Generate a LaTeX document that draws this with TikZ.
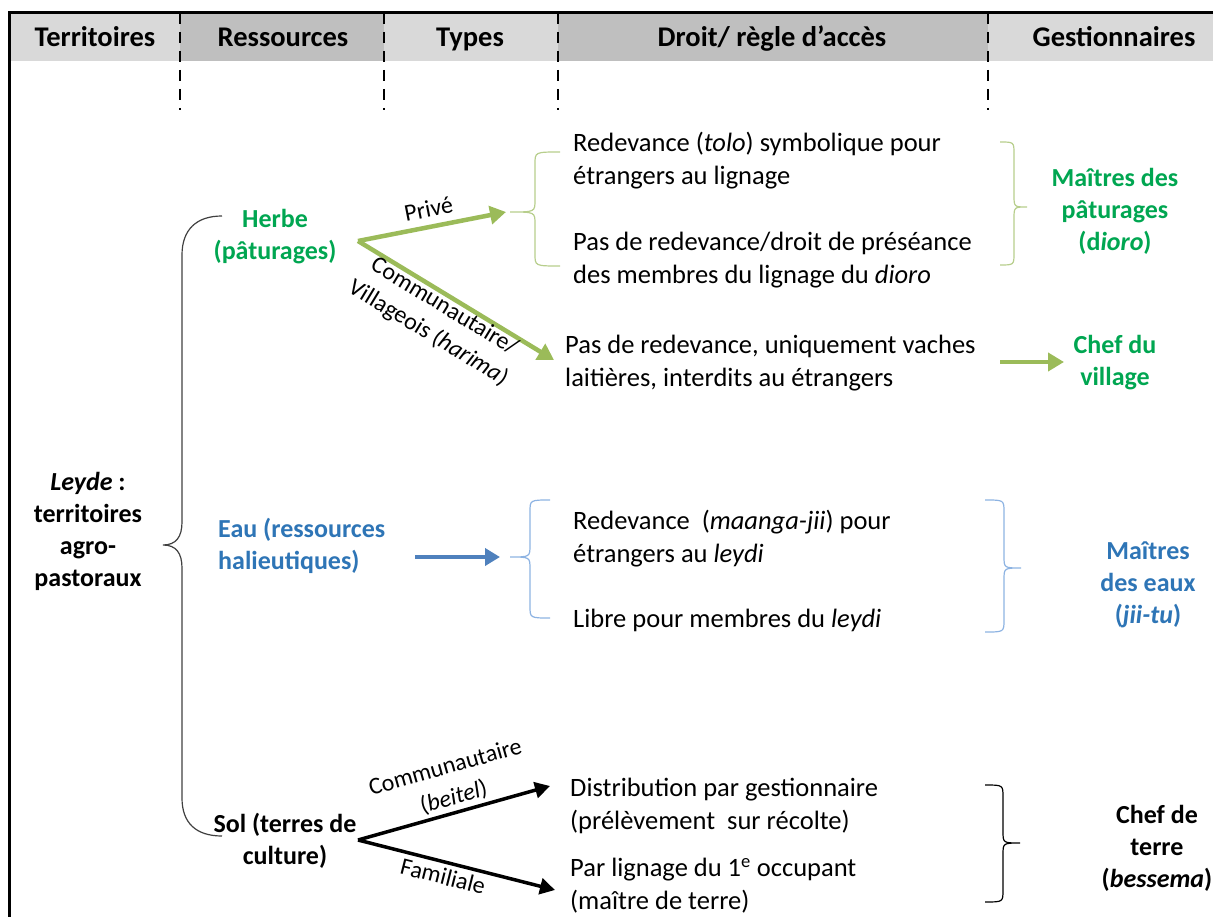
\documentclass[tikz,border=0pt]{standalone}
\usepackage{fontspec}
\setmainfont{Carlito}
\usetikzlibrary{arrows.meta}
\definecolor{hgreen}{HTML}{00A651}
\definecolor{agreen}{HTML}{9BBB59}
\definecolor{bgreen}{HTML}{B7CE8C}
\definecolor{tblue}{HTML}{2E75B6}
\definecolor{ablue}{HTML}{4F81BD}
\definecolor{bblue}{HTML}{8DB3E2}
\definecolor{hlight}{HTML}{D9D9D9}
\definecolor{hdark}{HTML}{BFBFBF}
\newcommand\mybrace[8]{%
\draw[#1] (#2,#3) .. controls (#5,#3) .. (#5,#3+#8) -- (#5,#7-#8) .. controls (#5,#7) .. (#6,#7) .. controls (#5,#7) .. (#5,#7+#8) -- (#5,#4-#8) .. controls (#5,#4) .. (#2,#4);}
\tikzset{
  body/.style={font=\fontsize{26.5}{33}\selectfont, align=left, anchor=west, inner sep=0pt},
  lab/.style={text=black, font=\fontsize{24}{31}\selectfont, align=center, inner sep=0pt},
  ttl/.style={font=\bfseries\fontsize{26}{32}\selectfont, align=center, inner sep=0pt},
  head/.style={font=\bfseries\fontsize{28.5}{32}\selectfont, inner sep=0pt, anchor=base},
  sep/.style={line width=2pt, dash pattern=on 11pt off 8pt},
  garrow/.style={agreen, line width=4.5pt, -{Triangle[length=16pt,width=18pt]}},
  barrow/.style={ablue, line width=4pt, -{Triangle[length=15pt,width=17pt]}},
  karrow/.style={black, line width=3.5pt, -{Triangle[length=15pt,width=16pt]}},
}
\begin{document}
\begin{tikzpicture}[x=1pt,y=-1pt]
\useasboundingbox (0,0) rectangle (1213,917);
% header
\fill[hlight] (9,13) rectangle (180,61);
\fill[hdark] (180,13) rectangle (384,61);
\fill[hlight] (384,13) rectangle (558,61);
\fill[hdark] (558,13) rectangle (988,61);
\fill[hlight] (988,13) rectangle (1213,61);
\draw[line width=3pt] (9,917) -- (9,13) -- (1213,13);
\foreach \x in {180,384,558,988} \draw[sep] (\x,13) -- (\x,110);
\node[head] (h1) at (95,47) {Territoires};
\node[head] (h2) at (283,47) {Ressources};
\node[head] (h3) at (470,47) {Types};
\node[head] (h4) at (772,47) {Droit/ règle d’accès};
\node[head] (h5) at (1114,47) {Gestionnaires};
% left
\node[ttl] (leyde) at (88,531) {\textit{Leyde} :\\territoires\\agro-\\pastoraux};
\draw[line width=1.2pt, black!75] (222,216) .. controls (196,216) and (182,230) .. (182,255) -- (182,522) .. controls (182,537) and (176,545) .. (163,545) .. controls (176,545) and (182,553) .. (182,568) -- (182,798) .. controls (182,823) and (196,836) .. (222,836);
% Herbe
\node[ttl, text=hgreen] (herbe) at (275,237) {Herbe\\(pâturages)};
\coordinate (hv) at (358,241);
\coordinate (g1t) at (506,212);
\coordinate (g2t) at (554,360);
\draw[garrow] (hv) -- node[lab, sloped, above=7pt, pos=0.5] (prive) {Privé} (g1t);
\draw[garrow] (hv) -- node[lab, sloped, below=-1pt, pos=0.47] (comm) {Communautaire/\\Villageois (\textit{harima})} (g2t);
\mybrace{bgreen, line width=1.2pt}{560}{152}{266}{535}{510}{212}{12}
\node[body] (a1) at (573,161) {Redevance (\textit{tolo}) symbolique pour\\étrangers au lignage};
\node[body] (a2) at (573,260) {Pas de redevance/droit de préséance\\des membres du lignage du \textit{dioro}};
\node[body] (a3) at (565,363) {Pas de redevance,\ uniquement vaches\\laitières,\ interdits au étrangers};
\mybrace{bgreen, line width=1.2pt}{1000}{142}{265}{1014}{1027}{207}{12}
\node[ttl, text=hgreen] (g1) at (1115,211) {Maîtres des\\pâturages\\(d\textit{ioro})};
\coordinate (ga1) at (1000,362);
\coordinate (ga2) at (1064,362);
\draw[garrow] (ga1) -- (ga2);
\node[ttl, text=hgreen] (g2) at (1115,363) {Chef du\\village};
% Eau
\node[ttl, text=tblue, align=left, anchor=west] (eau) at (218,546) {Eau (ressources\\halieutiques)};
\coordinate (ba1) at (415,557);
\coordinate (ba2) at (500,557);
\draw[barrow] (ba1) -- (ba2);
\mybrace{bblue, line width=1.2pt}{550}{500}{618}{530}{510}{557}{12}
\node[body] (b1) at (573,539) {Redevance\ \ (\textit{maanga-jii}) pour\\étrangers au \textit{leydi}};
\node[body] (b2) at (573,620) {Libre pour membres du \textit{leydi}};
\mybrace{bblue, line width=1.2pt}{985}{500}{632}{1004}{1021}{568}{12}
\node[ttl, text=tblue] (g3) at (1148,585) {Maîtres\\des eaux\\(\textit{jii-tu})};
% Sol
\node[ttl] (sol) at (285,841) {Sol (terres de\\culture)};
\coordinate (kv) at (358,840);
\coordinate (k1t) at (550,786);
\coordinate (k2t) at (555,890);
\draw[karrow] (kv) -- node[lab, sloped, above=3pt, pos=0.52] (commb) {Communautaire\\(\textit{beitel})} (k1t);
\draw[karrow] (kv) -- node[lab, sloped, below=4pt, pos=0.45] (fam) {Familiale} (k2t);
\node[body] (c1) at (570,806) {Distribution par gestionnaire\\(prélèvement\ \ sur récolte)};
\node[body] (c2) at (570,886) {Par lignage du 1\textsuperscript{e} occupant\\(maître de terre)};
\mybrace{black, line width=1.2pt}{985}{785}{902}{1003}{1020}{843}{12}
\node[ttl] (g4) at (1157,848) {Chef de\\terre\\(\textit{bessema})};
\end{tikzpicture}
\end{document}
